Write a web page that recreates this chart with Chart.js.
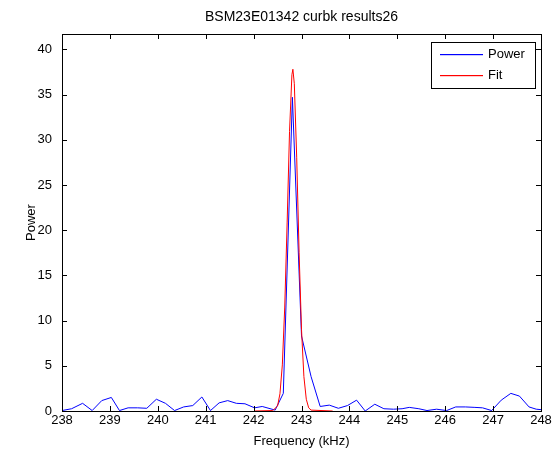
<!DOCTYPE html>
<html lang="en">
<head>
    <meta charset="UTF-8">
    <title>BSM23E01342 curbk results26</title>
    <script src="https://cdn.jsdelivr.net/npm/chart.js"></script>
    <style>
        html, body { margin: 0; padding: 0; background: #fff; }
        canvas { display: block; }
    </style>
</head>
<body>
    <canvas id="powerChart" width="555" height="451"></canvas>

    <script>
        // measured spectrum
        const powerFreq = [238.0, 238.2, 238.43, 238.63, 238.83, 239.03, 239.2, 239.38, 239.58, 239.77,
            239.97, 240.16, 240.35, 240.54, 240.73, 240.92, 241.1, 241.28, 241.46, 241.64,
            241.82, 242.02, 242.18, 242.45, 242.62, 242.81, 243.0, 243.2, 243.39, 243.58,
            243.77, 243.96, 244.15, 244.33, 244.53, 244.72, 244.92, 245.1, 245.25, 245.45,
            245.62, 245.82, 246.03, 246.22, 246.42, 246.62, 246.78, 246.97, 247.17, 247.37,
            247.55, 247.75, 247.9, 248.0];
        const powerValues = [0.05, 0.25, 0.85, 0.05, 1.15, 1.5, 0.05, 0.35, 0.35, 0.3,
            1.3, 0.85, 0.05, 0.45, 0.6, 1.55, 0.05, 0.9, 1.15, 0.85,
            0.8, 0.35, 0.5, 0.1, 1.95, 34.7, 8.3, 3.8, 0.5, 0.65,
            0.3, 0.6, 1.2, 0.0, 0.75, 0.25, 0.2, 0.25, 0.4, 0.25,
            0.05, 0.2, 0.05, 0.45, 0.45, 0.4, 0.35, 0.05, 1.2, 1.95,
            1.65, 0.45, 0.2, 0.15];

        // fitted peak
        const fitFreq = [242.03, 242.4, 242.5, 242.55, 242.6, 242.65, 242.7, 242.75, 242.8, 242.82,
            242.85, 242.9, 242.95, 243.0, 243.05, 243.1, 243.15, 243.2, 243.65];
        const fitValues = [0.0, 0.05, 0.55, 1.9, 5.1, 11.5, 20.8, 30.9, 37.2, 37.8,
            36.2, 28.0, 17.5, 9.0, 3.8, 1.3, 0.35, 0.1, 0.0];

        const xTicks = [238, 239, 240, 241, 242, 243, 244, 245, 246, 247, 248];
        const yTicks = [0, 5, 10, 15, 20, 25, 30, 35, 40];
        const seriesNames = ['Power', 'Fit'];
        const seriesColors = ['rgb(0, 0, 255)', 'rgb(255, 0, 0)'];

        const FONT = 'Liberation Sans, Arial, Helvetica, sans-serif';

        function toPoints(xs, ys) {
            return xs.map((x, i) => ({ x: x, y: ys[i] }));
        }

        // matlab style box, inward ticks and legend
        const axesBox = {
            id: 'axesBox',
            afterDraw(chart) {
                const ctx = chart.ctx;
                const a = chart.chartArea;
                const xs = chart.scales.x;
                const ys = chart.scales.y;
                const len = 5;
                ctx.save();
                ctx.strokeStyle = '#000';
                ctx.lineWidth = 1;
                ctx.beginPath();
                xTicks.forEach(v => {
                    const px = Math.round(xs.getPixelForValue(v)) + 0.5;
                    ctx.moveTo(px, a.bottom);
                    ctx.lineTo(px, a.bottom - len);
                    ctx.moveTo(px, a.top);
                    ctx.lineTo(px, a.top + len);
                });
                yTicks.forEach(v => {
                    const py = Math.round(ys.getPixelForValue(v)) + 0.5;
                    ctx.moveTo(a.left, py);
                    ctx.lineTo(a.left + len, py);
                    ctx.moveTo(a.right, py);
                    ctx.lineTo(a.right - len, py);
                });
                ctx.stroke();
                ctx.strokeRect(Math.round(a.left) + 0.5, Math.round(a.top) + 0.5,
                    Math.round(a.right - a.left), Math.round(a.bottom - a.top));

                // legend
                const lx = 431, ly = 42, lw = 104, lh = 46;
                ctx.fillStyle = '#fff';
                ctx.fillRect(lx, ly, lw, lh);
                ctx.strokeStyle = '#000';
                ctx.strokeRect(lx + 0.5, ly + 0.5, lw, lh);
                ctx.font = '13px ' + FONT;
                ctx.textBaseline = 'middle';
                ctx.textAlign = 'left';
                for (let i = 0; i < seriesNames.length; i++) {
                    const yy = ly + 12 + i * 21;
                    ctx.fillStyle = seriesColors[i];
                    ctx.fillRect(lx + 9, yy, 43, 1.2);
                    ctx.fillStyle = '#000';
                    ctx.fillText(seriesNames[i], lx + 57, yy + 0.5);
                }
                ctx.restore();
            }
        };

        const ctx = document.getElementById('powerChart').getContext('2d');
        const chart = new Chart(ctx, {
            type: 'line',
            data: {
                datasets: [
                    {
                        label: seriesNames[0],
                        data: toPoints(powerFreq, powerValues),
                        borderColor: seriesColors[0],
                        borderWidth: 1,
                        pointRadius: 0,
                        tension: 0,
                        order: 1
                    },
                    {
                        label: seriesNames[1],
                        data: toPoints(fitFreq, fitValues),
                        borderColor: seriesColors[1],
                        borderWidth: 1,
                        pointRadius: 0,
                        tension: 0,
                        order: 0
                    }
                ]
            },
            options: {
                responsive: false,
                animation: false,
                layout: { padding: { left: 0, right: 14, top: 0, bottom: 0 } },
                plugins: {
                    legend: { display: false },
                    tooltip: { enabled: false },
                    title: {
                        display: true,
                        text: 'BSM23E01342 curbk results26',
                        fullSize: false,
                        color: '#000',
                        font: { family: FONT, size: 14, weight: 'normal' },
                        padding: { top: 9, bottom: 8.2 }
                    }
                },
                scales: {
                    x: {
                        type: 'linear',
                        min: 238,
                        max: 248,
                        afterBuildTicks: s => { s.ticks = xTicks.map(v => ({ value: v })); },
                        afterFit: s => { s.height = 40; },
                        grid: { display: false, drawTicks: false },
                        border: { display: false },
                        ticks: { color: '#000', padding: 2, font: { family: FONT, size: 13 }, maxRotation: 0 },
                        title: {
                            display: true,
                            text: 'Frequency (kHz)',
                            color: '#000',
                            font: { family: FONT, size: 13 },
                            padding: { top: 0, bottom: 2 }
                        }
                    },
                    y: {
                        type: 'linear',
                        min: 0,
                        max: 41.7,
                        afterBuildTicks: s => { s.ticks = yTicks.map(v => ({ value: v })); },
                        afterFit: s => { s.width = 62; },
                        grid: { display: false, drawTicks: false },
                        border: { display: false },
                        ticks: { color: '#000', padding: 10, font: { family: FONT, size: 13 } },
                        title: {
                            display: true,
                            text: 'Power',
                            color: '#000',
                            font: { family: FONT, size: 13 },
                            padding: { top: 24, bottom: 0 }
                        }
                    }
                }
            },
            plugins: [axesBox]
        });
    </script>
</body>
</html>
